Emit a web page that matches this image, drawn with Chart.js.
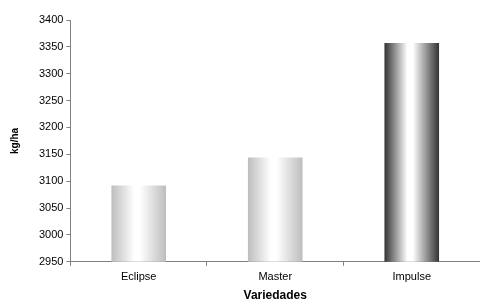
<!DOCTYPE html>
<html>
<head>
<meta charset="utf-8">
<script src="https://cdn.jsdelivr.net/npm/chart.js@4"></script>
<style>
    html, body { margin: 0; padding: 0; background: #fff; }
    #wrap { width: 480px; height: 302px; }
</style>
</head>
<body>
<div id="wrap"><canvas id="chart"></canvas></div>
<script>
const varieties = ['Eclipse', 'Master', 'Impulse'];
const yields = [3092, 3144, 3357];
const yMin = 2950;
const yMax = 3400;
const yStep = 50;

// colour at the edges of each cylinder-like bar
const edgeColors = ['#bdbdbd', '#bdbdbd', '#333333'];

function barGradient(context) {
    const i = context.dataIndex;
    const chart = context.chart;
    const xScale = chart.scales.x;
    if (i === undefined || !xScale || !xScale.width) {
        return edgeColors[0];
    }
    const cx = xScale.getPixelForValue(i);
    const half = xScale.width / varieties.length * 0.4 / 2;
    const g = chart.ctx.createLinearGradient(cx - half, 0, cx + half, 0);
    const edge = edgeColors[i];
    g.addColorStop(0, edge);
    g.addColorStop(0.42, '#ffffff');
    g.addColorStop(0.52, '#ffffff');
    g.addColorStop(1, edge);
    return g;
}

const ctx = document.querySelector('#chart').getContext('2d');
const chart = new Chart(ctx, {
    type: 'bar',
    data: {
        labels: varieties,
        datasets: [{
            data: yields,
            backgroundColor: barGradient,
            borderWidth: 0,
            categoryPercentage: 1,
            barPercentage: 0.4
        }]
    },
    options: {
        responsive: true,
        maintainAspectRatio: false,
        animation: false,
        layout: {
            padding: { top: 20, right: 0, bottom: 0, left: 0 }
        },
        plugins: {
            legend: { display: false },
            tooltip: { enabled: false }
        },
        scales: {
            x: {
                grid: {
                    offset: true,
                    drawOnChartArea: false,
                    tickLength: 4,
                    color: '#808080'
                },
                border: { color: '#808080', width: 1 },
                ticks: {
                    color: '#000',
                    padding: 5,
                    font: { family: 'Liberation Sans, Arial', size: 11 }
                },
                title: {
                    display: true,
                    text: 'Variedades',
                    color: '#000',
                    padding: { top: 1, bottom: 0 },
                    font: { family: 'Liberation Sans, Arial', size: 12, weight: 'bold', lineHeight: 1 }
                }
            },
            y: {
                min: yMin,
                max: yMax,
                grid: {
                    drawOnChartArea: false,
                    tickLength: 4,
                    color: '#808080'
                },
                border: { color: '#808080', width: 1 },
                ticks: {
                    stepSize: yStep,
                    color: '#000',
                    padding: 3,
                    font: { family: 'Liberation Sans, Arial', size: 11 },
                    callback: (value) => String(value)
                },
                title: {
                    display: true,
                    text: 'kg/ha',
                    color: '#000',
                    padding: { top: 9, bottom: 15 },
                    font: { family: 'Liberation Sans, Arial', size: 10, weight: 'bold' }
                }
            }
        }
    }
});
</script>
</body>
</html>
